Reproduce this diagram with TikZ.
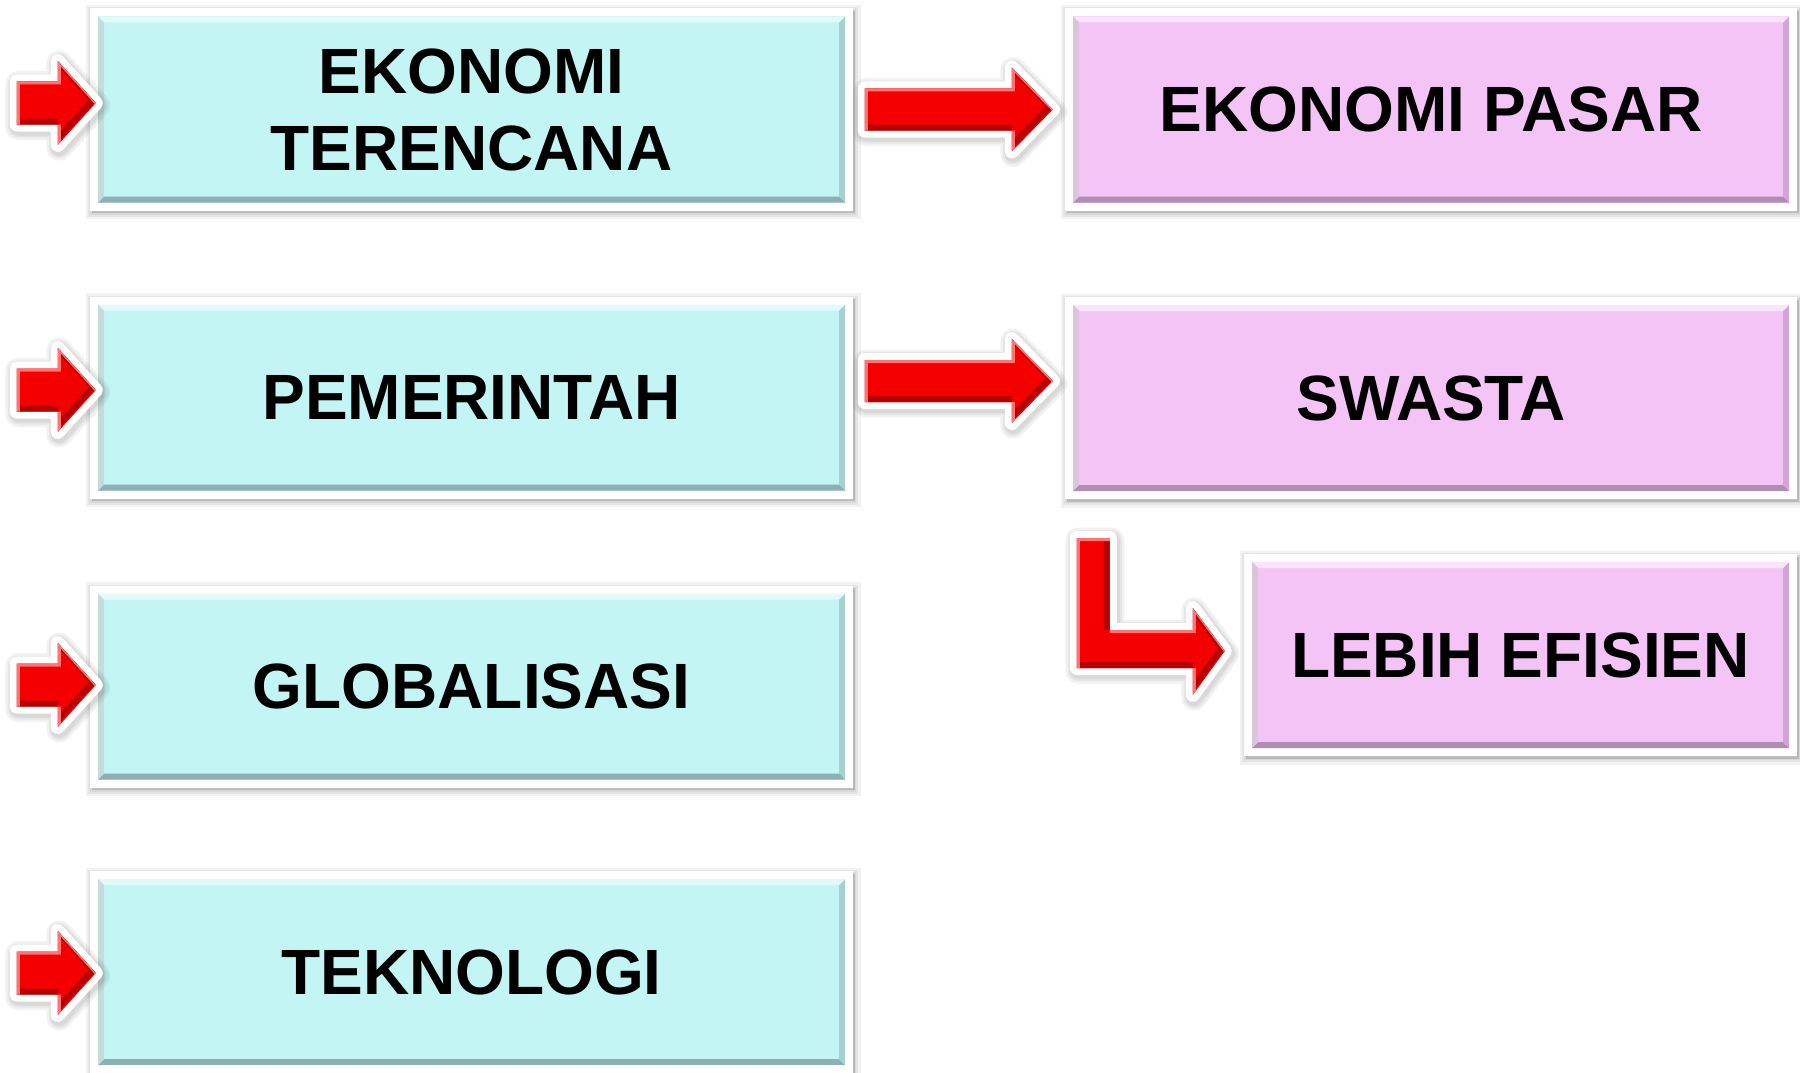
\documentclass[tikz,border=0pt]{standalone}
\usepackage{fontspec}
\setmainfont{Liberation Sans}
\usetikzlibrary{calc}
\definecolor{cyanfill}{RGB}{196,245,245}
\definecolor{pinkfill}{RGB}{245,196,246}
\definecolor{arrowred}{RGB}{245,0,0}
\newcommand\bevbox[1]{%
  \coordinate (bbsw) at ([shift={(8pt,8pt)}]path picture bounding box.south west);
  \coordinate (bbne) at ([shift={(-8pt,-8pt)}]path picture bounding box.north east);
  \coordinate (bbnw) at (bbsw|-bbne);
  \coordinate (bbse) at (bbne|-bbsw);
  \fill[#1] (bbsw) rectangle (bbne);
  \fill[#1!72!black] (bbsw) -- (bbse) -- ([shift={(-6pt,6pt)}]bbse) -- ([shift={(6pt,6pt)}]bbsw) -- cycle;
  \fill[#1!85!black] (bbse) -- (bbne) -- ([shift={(-6pt,-6pt)}]bbne) -- ([shift={(-6pt,6pt)}]bbse) -- cycle;
  \fill[#1!45!white] (bbnw) -- (bbne) -- ([shift={(-6pt,-6pt)}]bbne) -- ([shift={(6pt,-6pt)}]bbnw) -- cycle;
  \fill[#1!80!black!60!white] (bbsw) -- (bbnw) -- ([shift={(6pt,-6pt)}]bbnw) -- ([shift={(6pt,6pt)}]bbsw) -- cycle;
}
\newcommand\blockarrow[1]{%
  \foreach \w in {26,21,17}{\draw[black, opacity=.05, line width=\w pt, line join=round, transform canvas={xshift=1.5pt,yshift=-2.5pt}] #1;}
  \draw[white, line width=14pt, line join=round] #1;
  \fill[arrowred] #1;
  \begin{scope}
    \clip #1;
    \draw[red!72!black, line width=6pt, transform canvas={xshift=-3pt,yshift=3pt}] #1;
    \draw[red!55!white, line width=3pt, transform canvas={xshift=1.5pt,yshift=-1.5pt}] #1;
  \end{scope}
}
\tikzset{
  shlayer/.style={preaction={draw=black, fill=black, opacity=.05, line width=#1, transform canvas={xshift=1.5pt,yshift=-2.5pt}}},
  panel/.style={rectangle, fill=white, inner sep=0pt, minimum height=202pt,
    text=black, align=center, font=\fontsize{64}{77}\selectfont\bfseries,
    shlayer=12pt, shlayer=7pt, shlayer=3pt,
    path picture={\bevbox{#1}}},
  inarrow/.pic={\blockarrow{(0,0) -- (-38,-42) -- (-38,-21.5) -- (-79,-21.5) -- (-79,21.5) -- (-38,21.5) -- (-38,42) -- cycle}},
  midarrow/.pic={\blockarrow{(0,0) -- (-41,-42) -- (-41,-21) -- (-188,-21) -- (-188,21) -- (-41,21) -- (-41,42) -- cycle}},
  larrow/.pic={\blockarrow{(0,0) -- (-32,-43) -- (-32,-21) -- (-115,-21) -- (-115,-113) -- (-148,-113) -- (-148,17) -- (-32,17) -- (-32,44) -- cycle}}
}
\begin{document}
\begin{tikzpicture}[x=1pt,y=-1pt]
\fill[white] (0,0) rectangle (1800,1073);
\useasboundingbox (0,0) rectangle (1800,1073);

% left column
\node[panel=cyanfill, minimum width=763pt] (c1) at (471.5,109.5) {EKONOMI\\TERENCANA};
\node[panel=cyanfill, minimum width=763pt] (c2) at (471.5,397.5) {PEMERINTAH};
\node[panel=cyanfill, minimum width=763pt] (c3) at (471.5,686.5) {GLOBALISASI};
\node[panel=cyanfill, minimum width=763pt] (c4) at (471.5,972) {TEKNOLOGI};

% right column
\node[panel=pinkfill, minimum width=732pt] (p1) at (1431,109.5) {EKONOMI PASAR};
\node[panel=pinkfill, minimum width=732pt] (p2) at (1431,398) {SWASTA};
\node[panel=pinkfill, minimum width=553pt] (p3) at (1520.5,655) {LEBIH EFISIEN};

% input arrows
\pic at ($(c1.west)+(6,-6.5)$) {inarrow};
\pic at ($(c2.west)+(6,-7.5)$) {inarrow};
\pic at ($(c3.west)+(6,-1.5)$) {inarrow};
\pic at ($(c4.west)+(6,1)$) {inarrow};

% connecting arrows
\pic at ($(p1.west)+(-12,0)$) {midarrow};
\pic at ($(p2.west)+(-12,-17)$) {midarrow};
\pic at ($(p3.west)+(-19,-4)$) {larrow};
\end{tikzpicture}
\end{document}
